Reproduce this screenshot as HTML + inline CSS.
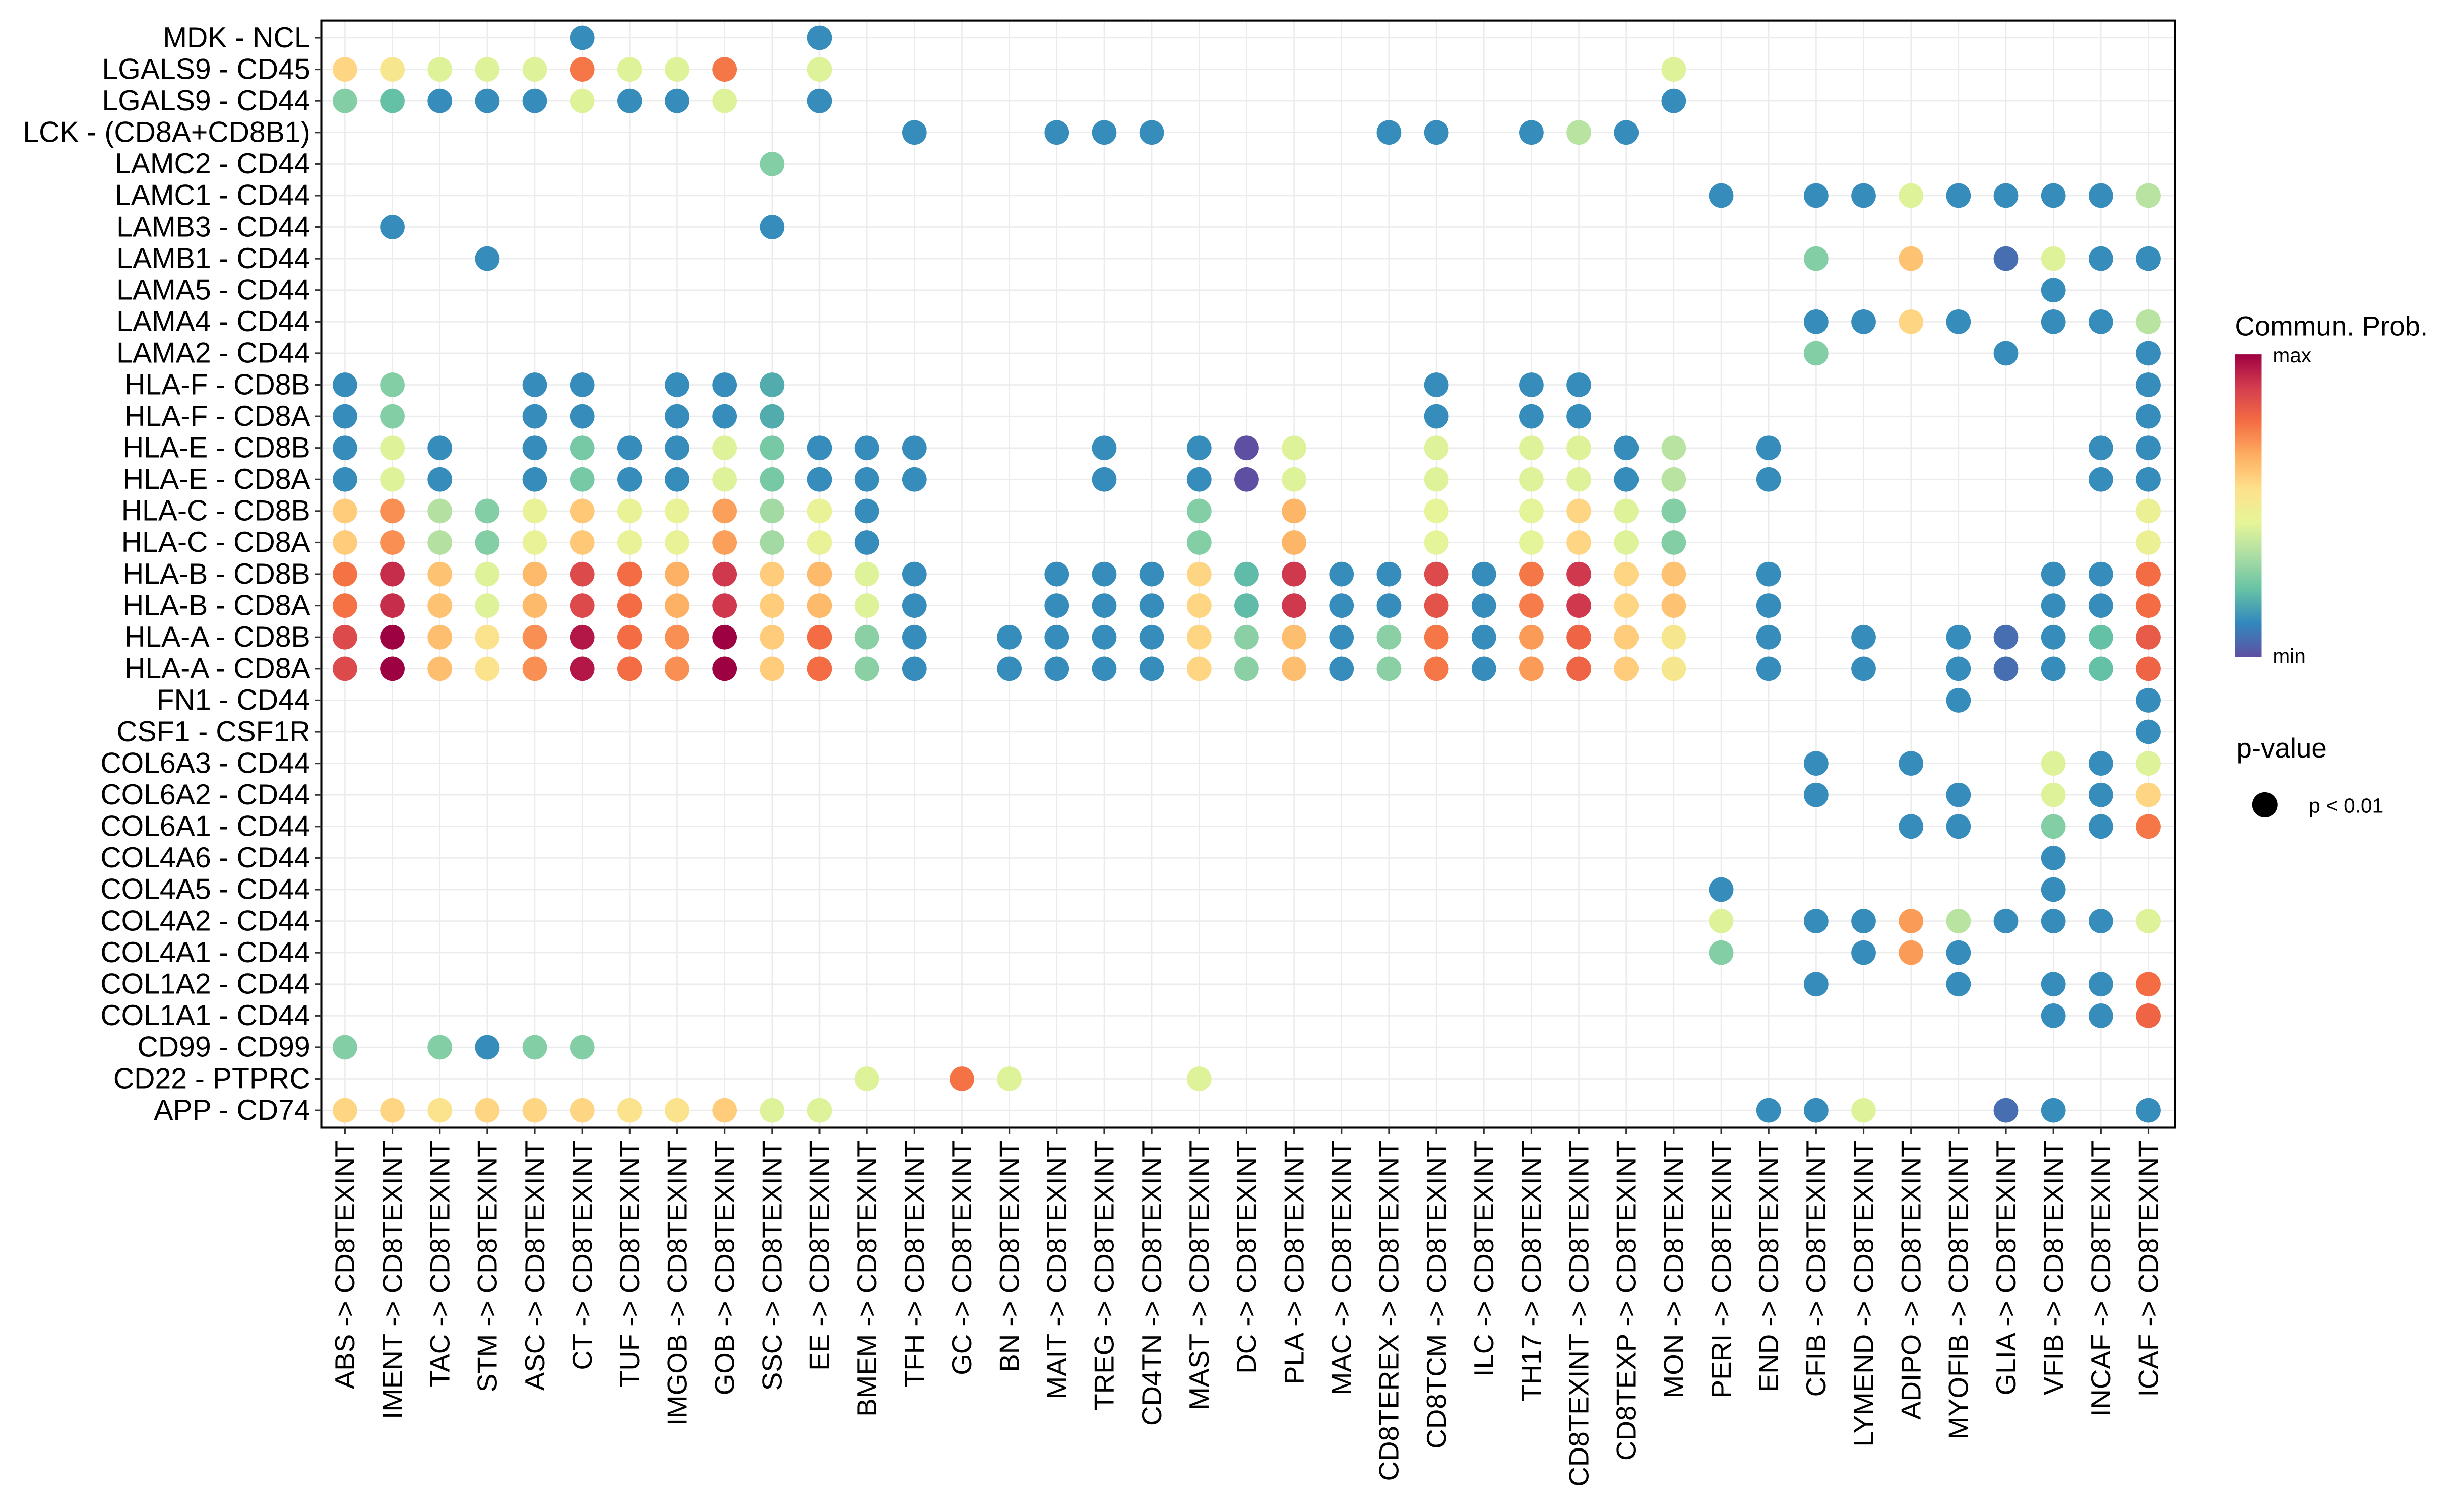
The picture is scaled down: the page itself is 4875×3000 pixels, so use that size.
<!DOCTYPE html>
<html><head><meta charset="utf-8"><style>
html,body{margin:0;padding:0;background:#fff;}
svg{display:block;font-family:"Liberation Sans",sans-serif;}
</style></head><body>
<svg id="chart" width="4875" height="3000" viewBox="0 0 1560 960" xmlns="http://www.w3.org/2000/svg">
<defs>
<linearGradient id="cbar" x1="0" y1="1" x2="0" y2="0">
<stop offset="0" stop-color="#5E4FA2"/><stop offset="0.111" stop-color="#3288BD"/><stop offset="0.222" stop-color="#66C2A5"/><stop offset="0.333" stop-color="#ABDDA4"/><stop offset="0.444" stop-color="#E6F598"/><stop offset="0.556" stop-color="#FEE08B"/><stop offset="0.667" stop-color="#FDAE61"/><stop offset="0.778" stop-color="#F46D43"/><stop offset="0.889" stop-color="#D53E4F"/><stop offset="1" stop-color="#9E0142"/>
</linearGradient>
</defs>
<g id="grid"></g>
<g id="dots"></g>
<rect x="204" y="13" width="1177" height="703" fill="none" stroke="#000" stroke-width="1.3"/>
<g id="ylab"></g>
<g id="xlab"></g>
<g>
<text x="1419" y="213" font-size="17.5">Commun. Prob.</text>
<rect x="1419" y="225" width="17" height="192" fill="url(#cbar)"/>
<text x="1443" y="230" font-size="13">max</text>
<text x="1443" y="421" font-size="13">min</text>
</g>
<g>
<text x="1420" y="481" font-size="17.5">p-value</text>
<circle cx="1438" cy="511" r="8" fill="#000"/>
<text x="1466" y="516" font-size="13">p &lt; 0.01</text>
</g>
</svg>
<script>
const pairs = ["MDK - NCL","LGALS9 - CD45","LGALS9 - CD44","LCK - (CD8A+CD8B1)","LAMC2 - CD44","LAMC1 - CD44","LAMB3 - CD44","LAMB1 - CD44","LAMA5 - CD44","LAMA4 - CD44","LAMA2 - CD44","HLA-F - CD8B","HLA-F - CD8A","HLA-E - CD8B","HLA-E - CD8A","HLA-C - CD8B","HLA-C - CD8A","HLA-B - CD8B","HLA-B - CD8A","HLA-A - CD8B","HLA-A - CD8A","FN1 - CD44","CSF1 - CSF1R","COL6A3 - CD44","COL6A2 - CD44","COL6A1 - CD44","COL4A6 - CD44","COL4A5 - CD44","COL4A2 - CD44","COL4A1 - CD44","COL1A2 - CD44","COL1A1 - CD44","CD99 - CD99","CD22 - PTPRC","APP - CD74"];
const sources = ["ABS","IMENT","TAC","STM","ASC","CT","TUF","IMGOB","GOB","SSC","EE","BMEM","TFH","GC","BN","MAIT","TREG","CD4TN","MAST","DC","PLA","MAC","CD8TEREX","CD8TCM","ILC","TH17","CD8TEXINT","CD8TEXP","MON","PERI","END","CFIB","LYMEND","ADIPO","MYOFIB","GLIA","VFIB","INCAF","ICAF"];
const target = "CD8TEXINT";
// per row: [sourceIndex, probability(0..1)]
const probs = [
[[5,.12],[10,.12]],
[[0,.58],[1,.52],[2,.43],[3,.43],[4,.43],[5,.76],[6,.43],[7,.43],[8,.76],[10,.43],[28,.43]],
[[0,.27],[1,.22],[2,.12],[3,.12],[4,.12],[5,.43],[6,.12],[7,.12],[8,.43],[10,.12],[28,.12]],
[[12,.12],[15,.12],[16,.12],[17,.12],[22,.12],[23,.12],[25,.12],[26,.36],[27,.12]],
[[9,.27]],
[[29,.12],[31,.12],[32,.12],[33,.43],[34,.12],[35,.12],[36,.12],[37,.12],[38,.36]],
[[1,.12],[9,.12]],
[[3,.12],[31,.27],[33,.62],[35,.06],[36,.43],[37,.12],[38,.12]],
[[36,.12]],
[[31,.12],[32,.12],[33,.58],[34,.12],[36,.12],[37,.12],[38,.36]],
[[31,.27],[35,.12],[38,.12]],
[[0,.12],[1,.27],[4,.12],[5,.12],[7,.12],[8,.12],[9,.18],[23,.12],[25,.12],[26,.12],[38,.12]],
[[0,.12],[1,.27],[4,.12],[5,.12],[7,.12],[8,.12],[9,.18],[23,.12],[25,.12],[26,.12],[38,.12]],
[[0,.12],[1,.43],[2,.12],[4,.12],[5,.25],[6,.12],[7,.12],[8,.43],[9,.25],[10,.12],[11,.12],[12,.12],[16,.12],[18,.12],[19,0],[20,.43],[23,.43],[25,.43],[26,.43],[27,.12],[28,.36],[30,.12],[37,.12],[38,.12]],
[[0,.12],[1,.43],[2,.12],[4,.12],[5,.25],[6,.12],[7,.12],[8,.43],[9,.25],[10,.12],[11,.12],[12,.12],[16,.12],[18,.12],[19,0],[20,.43],[23,.43],[25,.43],[26,.43],[27,.12],[28,.36],[30,.12],[37,.12],[38,.12]],
[[0,.6],[1,.72],[2,.35],[3,.27],[4,.46],[5,.61],[6,.46],[7,.46],[8,.69],[9,.32],[10,.46],[11,.12],[18,.27],[20,.65],[23,.45],[25,.44],[26,.58],[27,.43],[28,.27],[38,.47]],
[[0,.6],[1,.72],[2,.35],[3,.27],[4,.46],[5,.61],[6,.46],[7,.46],[8,.69],[9,.32],[10,.46],[11,.12],[18,.27],[20,.65],[23,.44],[25,.44],[26,.58],[27,.43],[28,.27],[38,.47]],
[[0,.77],[1,.92],[2,.62],[3,.43],[4,.64],[5,.86],[6,.78],[7,.66],[8,.9],[9,.6],[10,.64],[11,.43],[12,.12],[15,.12],[16,.12],[17,.12],[18,.58],[19,.21],[20,.9],[21,.12],[22,.12],[23,.86],[24,.12],[25,.76],[26,.9],[27,.58],[28,.62],[30,.12],[36,.12],[37,.12],[38,.78]],
[[0,.77],[1,.92],[2,.62],[3,.43],[4,.64],[5,.86],[6,.78],[7,.66],[8,.9],[9,.6],[10,.64],[11,.43],[12,.12],[15,.12],[16,.12],[17,.12],[18,.58],[19,.21],[20,.9],[21,.12],[22,.12],[23,.84],[24,.12],[25,.75],[26,.9],[27,.58],[28,.62],[30,.12],[36,.12],[37,.12],[38,.78]],
[[0,.86],[1,1],[2,.63],[3,.54],[4,.72],[5,.96],[6,.78],[7,.72],[8,1],[9,.6],[10,.78],[11,.28],[12,.12],[14,.12],[15,.12],[16,.12],[17,.12],[18,.58],[19,.28],[20,.63],[21,.12],[22,.28],[23,.76],[24,.12],[25,.7],[26,.8],[27,.6],[28,.52],[30,.12],[32,.12],[34,.12],[35,.06],[36,.12],[37,.22],[38,.82]],
[[0,.86],[1,1],[2,.63],[3,.54],[4,.72],[5,.96],[6,.78],[7,.72],[8,1],[9,.6],[10,.78],[11,.28],[12,.12],[14,.12],[15,.12],[16,.12],[17,.12],[18,.58],[19,.28],[20,.63],[21,.12],[22,.28],[23,.76],[24,.12],[25,.7],[26,.8],[27,.6],[28,.52],[30,.12],[32,.12],[34,.12],[35,.06],[36,.12],[37,.22],[38,.8]],
[[34,.12],[38,.12]],
[[38,.12]],
[[31,.12],[33,.12],[36,.43],[37,.12],[38,.43]],
[[31,.12],[34,.12],[36,.43],[37,.12],[38,.58]],
[[33,.12],[34,.12],[36,.27],[37,.12],[38,.76]],
[[36,.12]],
[[29,.12],[36,.12]],
[[29,.43],[31,.12],[32,.12],[33,.7],[34,.36],[35,.12],[36,.12],[37,.12],[38,.43]],
[[29,.27],[32,.12],[33,.7],[34,.12]],
[[31,.12],[34,.12],[36,.12],[37,.12],[38,.78]],
[[36,.12],[37,.12],[38,.8]],
[[0,.27],[2,.27],[3,.12],[4,.27],[5,.27]],
[[11,.43],[13,.77],[14,.43],[18,.43]],
[[0,.58],[1,.58],[2,.54],[3,.58],[4,.58],[5,.58],[6,.54],[7,.54],[8,.6],[9,.43],[10,.43],[30,.12],[31,.12],[32,.43],[35,.06],[36,.12],[38,.12]]
];
const NS="http://www.w3.org/2000/svg";
const stops=["#5E4FA2","#3288BD","#66C2A5","#ABDDA4","#E6F598","#FEE08B","#FDAE61","#F46D43","#D53E4F","#9E0142"];
function hex(h){return [1,3,5].map(i=>parseInt(h.substr(i,2),16));}
function color(v){v=Math.max(0,Math.min(1,v));const p=v*9,i=Math.min(8,Math.floor(p)),t=p-i;const a=hex(stops[i]),b=hex(stops[i+1]);return "rgb("+a.map((c,k)=>Math.round(c+(b[k]-c)*t)).join(",")+")";}
function xPos(j){return 219+j*(1364-219)/(sources.length-1);}
function yPos(i){return 24+i*(705-24)/(pairs.length-1);}
function mk(tag,attrs,parent){const e=document.createElementNS(NS,tag);for(const k in attrs)e.setAttribute(k,attrs[k]);parent.appendChild(e);return e;}
const grid=document.getElementById('grid'),dots=document.getElementById('dots'),ylab=document.getElementById('ylab'),xlab=document.getElementById('xlab');
pairs.forEach((p,i)=>{
  const y=yPos(i);
  const l=mk('line',{x1:204,x2:1381,y1:y,y2:y,stroke:'#ebebeb','stroke-width':0.8},grid);
  
  
  const tk=mk('line',{x1:200,x2:204,y1:y,y2:y,stroke:'#333','stroke-width':1},ylab);
  
  
  const t=mk('text',{x:197,y:y+6,'text-anchor':'end','font-size':18.3,fill:'#000'},ylab);
  t.textContent=p;
  
  
});
sources.forEach((s,j)=>{
  const x=xPos(j);
  const l=mk('line',{x1:x,x2:x,y1:13,y2:716,stroke:'#ebebeb','stroke-width':0.8},grid);
  
  
  const tk=mk('line',{x1:x,x2:x,y1:716,y2:720,stroke:'#333','stroke-width':1},xlab);
  
  
  const t=mk('text',{x:0,y:0,'text-anchor':'end','font-size':17.5,fill:'#000',transform:'translate('+(x+6)+',724) rotate(-90)'},xlab);
  t.textContent=s+" -> "+target;
  
  
});
probs.forEach((row,i)=>{
  row.forEach(([j,v])=>{
    const c=mk('circle',{cx:xPos(j),cy:yPos(i),r:7.8,fill:color(v)},dots);
    
    
  });
});
</script>
</body></html>
